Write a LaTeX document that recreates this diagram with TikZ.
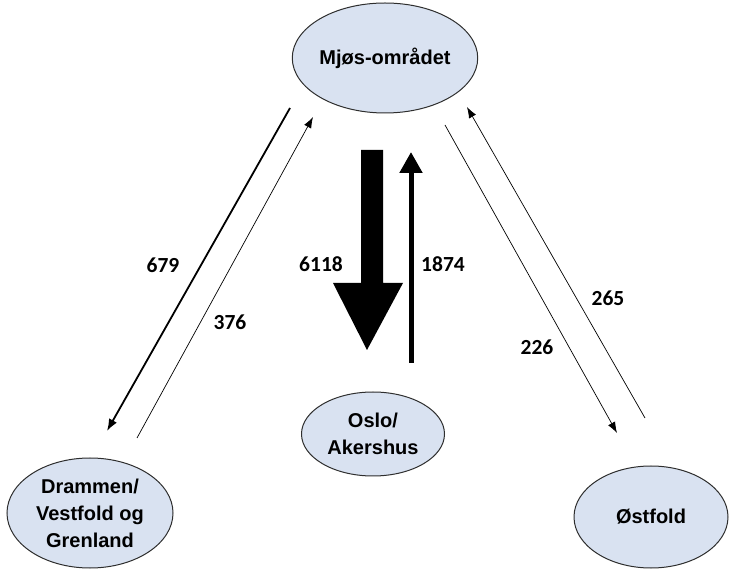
\documentclass[tikz,border=0pt]{standalone}
\usepackage{fontspec}
\setmainfont{Liberation Sans}
\newfontfamily\numfont{Carlito}
\usetikzlibrary{shapes.geometric,arrows.meta,calc}
\definecolor{ellfill}{HTML}{D9E2F1}
\definecolor{ellline}{HTML}{2E2E2E}
\tikzset{
  region/.style={ellipse, draw=ellline, fill=ellfill, line width=1pt, inner sep=0pt,
    align=center, font=\fontsize{20}{27}\selectfont\bfseries},
  flowlabel/.style={font=\numfont\bfseries\fontsize{21.5}{24}\selectfont, inner sep=0pt},
  thinflow/.style={line width=0.7pt, -{Latex[length=11pt,width=8pt]}},
  midflow/.style={line width=1.8pt, -{Latex[length=12pt,width=9pt]}},
}
\begin{document}
\begin{tikzpicture}[x=1pt,y=-1pt]
\useasboundingbox (0,0) rectangle (729,569);
% regions
\node[region, minimum width=164pt, minimum height=110pt] (mjos) at (385,58) {Mjøs-området};
\node[region, minimum width=143pt, minimum height=84pt] (oslo) at (373,434) {Oslo/\\Akershus};
\node[region, minimum width=166pt, minimum height=110pt] (dram) at (90,513) {Drammen/\\Vestfold og\\Grenland};
\node[region, minimum width=154pt, minimum height=102pt] (ost) at (651,517) {Østfold};
% connector end points
\coordinate (a1s) at (290,108); \coordinate (a1e) at (107,431);
\coordinate (a2s) at (137,438); \coordinate (a2e) at (313,117);
\coordinate (a3s) at (445,125); \coordinate (a3e) at (617,433);
\coordinate (a4s) at (645,418); \coordinate (a4e) at (467,107);
\coordinate (b1s) at (411,363); \coordinate (b1e) at (411,152);
\coordinate (big) at (372,150);
% arrows
\draw[midflow] (a1s) -- (a1e);
\draw[thinflow] (a2s) -- (a2e);
\draw[thinflow] (a3s) -- (a3e);
\draw[thinflow] (a4s) -- (a4e);
\draw[line width=5pt, -{Triangle[length=21pt,width=22pt]}] (b1s) -- (b1e);
\fill ($(big)+(-11,0)$) -- ($(big)+(11,0)$) -- ($(big)+(11,133)$) -- ($(big)+(31,133)$)
  -- ($(big)+(-5,200)$) -- ($(big)+(-39,133)$) -- ($(big)+(-11,133)$) -- cycle;
% labels
\node[flowlabel] (l679) at (163,265) {679};
\node[flowlabel] (l376) at (230,322) {376};
\node[flowlabel] (l6118) at (321,264) {6118};
\node[flowlabel] (l1874) at (443,264) {1874};
\node[flowlabel] (l265) at (608,298) {265};
\node[flowlabel] (l226) at (537,347) {226};
\end{tikzpicture}
\end{document}
